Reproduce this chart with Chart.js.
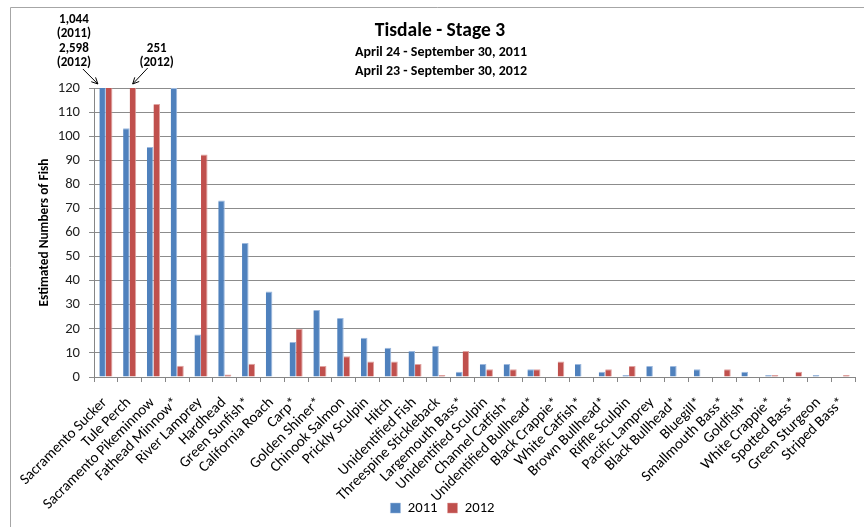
<!DOCTYPE html>
<html><head><meta charset="utf-8">
<script src="https://cdn.jsdelivr.net/npm/chart.js@4/dist/chart.umd.min.js"></script>
<style>html,body{margin:0;padding:0;background:#fff}#wrap{width:864px;height:527px}</style>
</head><body><div id="wrap"><canvas id="c" width="864" height="527"></canvas></div>
<script>
const categories = ['Sacramento Sucker','Tule Perch','Sacramento Pikeminnow','Fathead Minnow*','River Lamprey','Hardhead','Green Sunfish*','California Roach','Carp*','Golden Shiner*','Chinook Salmon','Prickly Sculpin','Hitch','Unidentified Fish','Threespine Stickleback','Largemouth Bass*','Unidentified Sculpin','Channel Catfish*','Unidentified Bullhead*','Black Crappie*','White Catfish*','Brown Bullhead*','Riffle Sculpin','Pacific Lamprey','Black Bullhead*','Bluegill*','Smallmouth Bass*','Goldfish*','White Crappie*','Spotted Bass*','Green Sturgeon','Striped Bass*'];
const values2011 = [1044,103.3,95.5,120,17.7,73.3,55.6,35.5,14.5,27.8,24.5,16.3,12.2,10.8,13,2.2,5.4,5.4,3.2,0,5.4,2.2,0.8,4.6,4.6,3.2,0,2.2,0.8,0,0.8,0];
const values2012 = [2598,251,113.4,4.7,92.4,1,5.5,0,20,4.6,8.6,6.4,6.4,5.4,0.8,10.8,3.2,3.2,3.2,6.4,0,3.2,4.6,0,0,0,3.2,0,0.8,2.2,0,0.8];
const seriesNames = ['2011','2012'];
const yMin = 0, yMax = 120, yStep = 10;
const titleLines = ['Tisdale - Stage 3','April 24 - September 30, 2011','April 23 - September 30, 2012'];
const yAxisTitle = 'Estimated Numbers of Fish';
const noteSucker = ['1,044','(2011)','2,598','(2012)'];
const notePerch = ['251','(2012)'];

const FONT = 'Carlito, Calibri, Lato, sans-serif';

const decor = {
  id: 'decor',
  afterLayout(chart) {
    // let the rotated category labels run below the axis box without being clipped
    const xs = chart.scales.x;
    xs.bottom = chart.height;
    xs.height = xs.bottom - xs.top;
  },
  beforeDraw(chart) {
    const ctx = chart.ctx;
    ctx.save();
    ctx.strokeStyle = '#a6a6a6';
    ctx.lineWidth = 1;
    ctx.beginPath();
    ctx.moveTo(10.5, 540); ctx.lineTo(10.5, 7.5); ctx.lineTo(870, 7.5);
    ctx.stroke();
    ctx.restore();
  },
  afterDraw(chart) {
    const ctx = chart.ctx;
    const xs = chart.scales.x, ys = chart.scales.y;
    ctx.save();
    ctx.fillStyle = '#000';
    ctx.textAlign = 'center';
    ctx.textBaseline = 'middle';
    ctx.font = 'bold 19.5px ' + FONT;
    ctx.fillText(titleLines[0], 440, 31);
    ctx.font = 'bold 14px ' + FONT;
    ctx.fillText(titleLines[1], 441, 52);
    ctx.fillText(titleLines[2], 441, 71.5);

    ctx.font = 'bold 13px ' + FONT;
    const c0 = xs.getPixelForValue(0), c1 = xs.getPixelForValue(1);
    const top = ys.getPixelForValue(yMax);
    noteSucker.forEach((t, i) => ctx.fillText(t, c0 - 32, 19.5 + i * 14.4));
    notePerch.forEach((t, i) => ctx.fillText(t, c1 + 27, 48.5 + i * 14.4));
    const arrow = (x1, y1, x2, y2) => {
      ctx.beginPath(); ctx.moveTo(x1, y1); ctx.lineTo(x2, y2); ctx.stroke();
      const a = Math.atan2(y2 - y1, x2 - x1), L = 7, w = 0.45;
      ctx.beginPath();
      ctx.moveTo(x2 - L * Math.cos(a - w), y2 - L * Math.sin(a - w));
      ctx.lineTo(x2, y2);
      ctx.lineTo(x2 - L * Math.cos(a + w), y2 - L * Math.sin(a + w));
      ctx.stroke();
    };
    ctx.strokeStyle = '#000'; ctx.lineWidth = 1;
    arrow(c0 - 23, top - 19, c0 - 8, top - 4);
    arrow(c1 + 18, top - 20, c1 + 3, top - 4);
    ctx.restore();
  }
};

new Chart(document.getElementById('c'), {
  type: 'bar',
  data: {
    labels: categories,
    datasets: [
      { label: seriesNames[0], data: values2011, backgroundColor: '#4F81BD', borderColor: '#9DB9DE', borderWidth: { top: 1, left: 0, right: 1, bottom: 0 }, categoryPercentage: 0.55, barPercentage: 1.0 },
      { label: seriesNames[1], data: values2012, backgroundColor: '#C0504D', borderColor: '#E0A3A1', borderWidth: { top: 1, left: 0, right: 1, bottom: 0 }, categoryPercentage: 0.55, barPercentage: 1.0 }
    ]
  },
  options: {
    responsive: false,
    devicePixelRatio: 1,
    animation: false,
    layout: { padding: { left: 30, right: 9, top: 88, bottom: 1.6 } },
    plugins: {
      title: { display: false },
      tooltip: { enabled: false },
      legend: {
        position: 'bottom',
        labels: { boxWidth: 10, boxHeight: 10, padding: 10, color: '#000', font: { family: FONT, size: 14.67 } }
      }
    },
    scales: {
      x: {
        grid: { display: true, drawOnChartArea: false, drawTicks: true, tickLength: 5, color: '#868686', offset: true },
        border: { display: true, color: '#868686', width: 1 },
        ticks: { autoSkip: false, minRotation: 45, maxRotation: 45, color: '#000', padding: 12, labelOffset: -1, font: { family: FONT, size: 15 } },
        afterFit(s) { s.height = 113.7; s.paddingRight = 0; s.paddingLeft = 0; }
      },
      y: {
        min: yMin, max: yMax,
        grid: { color: '#8c8c8c', tickLength: 5, lineWidth: 1 },
        border: { display: true, color: '#868686', width: 1 },
        ticks: { stepSize: yStep, color: '#222', padding: 9, font: { family: FONT, size: 14.67 } },
        title: { display: true, text: yAxisTitle, color: '#000', padding: { top: 7, bottom: 0 }, font: { family: FONT, size: 13.33, weight: 'bold' } },
        afterFit(s) { s.width = 64; }
      }
    }
  },
  plugins: [decor]
});
</script></body></html>
